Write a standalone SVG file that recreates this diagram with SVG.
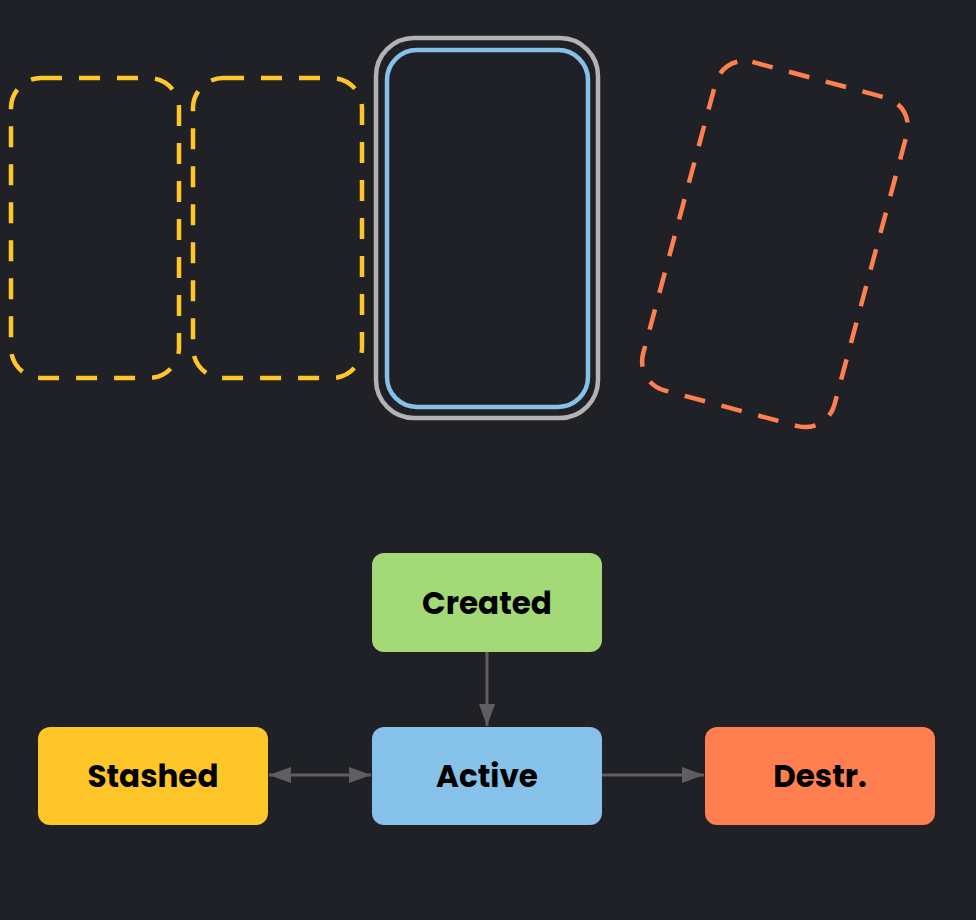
<svg xmlns="http://www.w3.org/2000/svg" width="976" height="920" viewBox="0 0 976 920">
<style>
.bg{fill:#202126}
.frame{fill:none;stroke-width:4.5}
.dashY{stroke:#FFC629;stroke-dasharray:21 17}
.dashO{stroke:#FF7F50;stroke-dasharray:21 17}
.node rect{stroke:none}
.lbl{font-family:Poppins,Inter,"Liberation Sans",sans-serif;font-weight:700;font-size:31px;fill:#000;text-anchor:middle}
.edge{stroke:#5f5f5f;stroke-width:3;fill:none}
</style>
<defs>
<marker id="ah" viewBox="0 0 22 16" refX="22" refY="8" markerWidth="22" markerHeight="16" markerUnits="userSpaceOnUse" orient="auto-start-reverse">
<path d="M0,0 L22,8 L0,16 Z" fill="#5f5f5f"/>
</marker>
</defs>
<rect class="bg" x="0" y="0" width="976" height="920"/>
<g id="stash-frame-1"><rect class="frame dashY" x="11" y="78" width="168" height="300" rx="30"/></g>
<g id="stash-frame-2"><rect class="frame dashY" x="193" y="78" width="169" height="300" rx="30"/></g>
<g id="active-frame">
<rect class="frame" stroke="#B3B3B3" x="376" y="38" width="222" height="380" rx="38"/>
<rect class="frame" stroke="#85C1E9" x="387" y="50" width="201" height="357" rx="30"/>
</g>
<g id="destroyed-frame"><rect class="frame dashO" x="676" y="74" width="198" height="340" rx="30" transform="rotate(15 775 244)"/></g>
<g id="connectors">
<line class="edge" x1="487" y1="652" x2="487" y2="726" marker-end="url(#ah)"/>
<line class="edge" x1="269" y1="775" x2="371" y2="775" marker-start="url(#ah)" marker-end="url(#ah)"/>
<line class="edge" x1="602" y1="775" x2="704" y2="775" marker-end="url(#ah)"/>
</g>
<g id="created" class="node"><rect x="372" y="553" width="230" height="99" rx="12" fill="#A3D977"/><text class="lbl" x="487" y="614">Created</text></g>
<g id="active" class="node"><rect x="372" y="727" width="230" height="98" rx="12" fill="#85C1E9"/><text class="lbl" x="487" y="787">Active</text></g>
<g id="stashed" class="node"><rect x="38" y="727" width="230" height="98" rx="12" fill="#FFC629"/><text class="lbl" x="153" y="787">Stashed</text></g>
<g id="destr" class="node"><rect x="705" y="727" width="230" height="98" rx="12" fill="#FF7F50"/><text class="lbl" x="820" y="787">Destr.</text></g>
</svg>
